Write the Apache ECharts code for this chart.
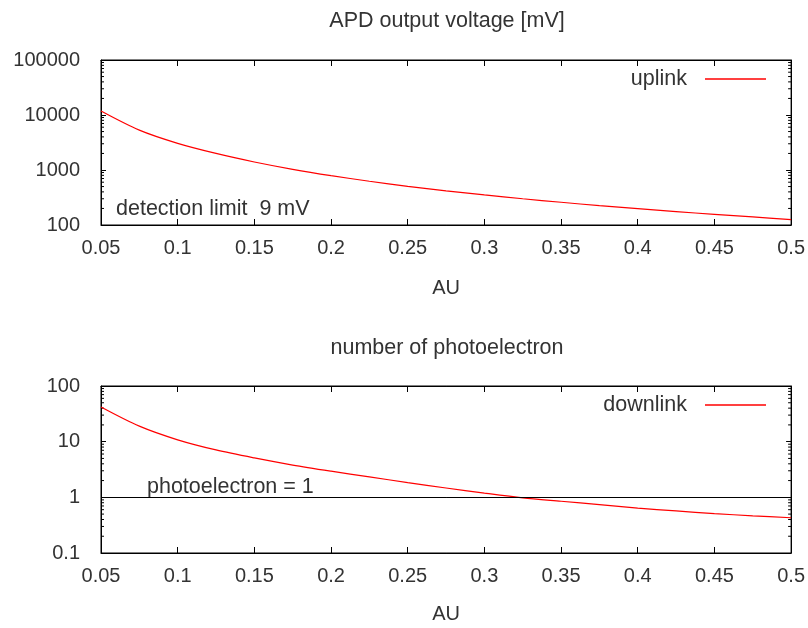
<!DOCTYPE html>
<html>
<head>
<meta charset="utf-8">
<script src="https://cdn.jsdelivr.net/npm/echarts@6/dist/echarts.min.js"></script>
<style>html,body{margin:0;padding:0;background:#fff}#c{width:808px;height:628px}</style>
</head>
<body>
<div id="c"></div>
<script>
// ---- data ----
var au = [0.05, 0.075, 0.1, 0.125, 0.15, 0.175, 0.2, 0.225, 0.25, 0.275, 0.3, 0.325, 0.35, 0.375, 0.4, 0.425, 0.45, 0.475, 0.5];
var uplink = [11800, 5300, 3050, 2000, 1400, 1030, 790, 625, 505, 418, 352, 300, 259, 225, 198, 175, 156, 140, 125];
var downlink = [42, 19, 10.8, 7.1, 5.1, 3.8, 2.95, 2.33, 1.84, 1.47, 1.19, 0.98, 0.85, 0.74, 0.64, 0.57, 0.51, 0.465, 0.43];
var photoelectronLimit = 1;
var xMin = 0.05, xMax = 0.5, xStep = 0.05;
var topYMin = 100, topYMax = 100000;
var botYMin = 0.1, botYMax = 100;
var minorMultipliers = [2, 3, 4, 5, 6, 7, 8, 9];

function pairs(xs, ys) { return xs.map(function (x, i) { return [x, ys[i]]; }); }
function minorValues(lo, hi) {
  var out = [];
  for (var d = lo; d < hi * 0.999; d *= 10) {
    minorMultipliers.forEach(function (m) { out.push([xMin, +(d * m).toPrecision(6)]); });
  }
  return out;
}

var FONT = 'Liberation Sans, Arial, sans-serif';
var TXT = '#333';

function xAxisMain(gi, nameGap) {
  return {
    type: 'value', gridIndex: gi, min: xMin, max: xMax, interval: xStep,
    name: 'AU', nameLocation: 'middle', nameGap: nameGap,
    nameTextStyle: { fontSize: 20, color: TXT, fontFamily: FONT },
    axisLine: { show: true, lineStyle: { color: '#000', width: 1 } },
    axisTick: { show: true, inside: true, length: 6, lineStyle: { color: '#000' } },
    axisLabel: { fontSize: 20, color: TXT, fontFamily: FONT, margin: 13 },
    splitLine: { show: false }
  };
}
function xAxisMirror(gi) {
  return {
    type: 'value', gridIndex: gi, position: 'top', min: xMin, max: xMax, interval: xStep,
    axisLine: { show: true, lineStyle: { color: '#000', width: 1 } },
    axisTick: { show: true, inside: true, length: 6, lineStyle: { color: '#000' } },
    axisLabel: { show: false }, splitLine: { show: false }
  };
}
function yAxisMain(gi, lo, hi) {
  return {
    type: 'log', logBase: 10, gridIndex: gi, min: lo, max: hi,
    axisLine: { show: true, lineStyle: { color: '#000', width: 1 } },
    axisTick: { show: true, inside: true, length: 5, lineStyle: { color: '#000' } },
    axisLabel: { fontSize: 20, color: TXT, fontFamily: FONT, margin: 21,
      formatter: function (v) { return String(+v.toPrecision(6)); } },
    splitLine: { show: false }
  };
}
function yAxisMirror(gi, lo, hi) {
  return {
    type: 'log', logBase: 10, gridIndex: gi, position: 'right', min: lo, max: hi,
    axisLine: { show: true, lineStyle: { color: '#000', width: 1 } },
    axisTick: { show: true, inside: true, length: 5, lineStyle: { color: '#000' } },
    axisLabel: { show: false }, splitLine: { show: false }
  };
}
function minorTickSeries(gi, lo, hi) {
  return {
    type: 'custom', xAxisIndex: gi, yAxisIndex: gi, silent: true, clip: false,
    data: minorValues(lo, hi),
    renderItem: function (params, api) {
      var v = api.value(1);
      var pL = api.coord([xMin, v]);
      var pR = api.coord([xMax, v]);
      var st = { stroke: '#000', lineWidth: 1 };
      return {
        type: 'group', children: [
          { type: 'line', shape: { x1: pL[0], y1: pL[1], x2: pL[0] + 3, y2: pL[1] }, style: st },
          { type: 'line', shape: { x1: pR[0] - 3, y1: pR[1], x2: pR[0], y2: pR[1] }, style: st }
        ]
      };
    }
  };
}

var chart = echarts.init(document.getElementById('c'), null, { renderer: 'canvas' });
chart.setOption({
  animation: false,
  backgroundColor: '#fff',
  textStyle: { fontFamily: FONT },
  title: [
    { text: 'APD output voltage [mV]', left: 442, top: 5, textAlign: 'center',
      textStyle: { fontSize: 21.5, fontWeight: 'normal', color: TXT, fontFamily: FONT } },
    { text: 'number of photoelectron', left: 442, top: 332, textAlign: 'center',
      textStyle: { fontSize: 21.5, fontWeight: 'normal', color: TXT, fontFamily: FONT } }
  ],
  grid: [
    { left: 101, right: 16, top: 60, height: 165, show: true, borderColor: '#000', borderWidth: 1 },
    { left: 101, right: 16, top: 386, height: 167, show: true, borderColor: '#000', borderWidth: 1 }
  ],
  legend: [
    { data: ['uplink'], right: 37, top: 63, align: 'right', icon: 'rect', itemWidth: 61, itemHeight: 1.5,
      textStyle: { fontSize: 21.5, color: TXT, fontFamily: FONT, padding: [0, 13, 0, 0] } },
    { data: ['downlink'], right: 37, top: 389, align: 'right', icon: 'rect', itemWidth: 61, itemHeight: 1.5,
      textStyle: { fontSize: 21.5, color: TXT, fontFamily: FONT, padding: [0, 13, 0, 0] } }
  ],
  xAxis: [xAxisMain(0, 53), xAxisMain(1, 51), xAxisMirror(0), xAxisMirror(1)],
  yAxis: [yAxisMain(0, topYMin, topYMax), yAxisMain(1, botYMin, botYMax),
          yAxisMirror(0, topYMin, topYMax), yAxisMirror(1, botYMin, botYMax)],
  series: [
    { name: 'uplink', type: 'line', xAxisIndex: 0, yAxisIndex: 0, data: pairs(au, uplink),
      smooth: 0.3, symbol: 'none', lineStyle: { color: '#ff0000', width: 1.2 }, itemStyle: { color: '#ff0000' } },
    { name: 'downlink', type: 'line', xAxisIndex: 1, yAxisIndex: 1, data: pairs(au, downlink),
      smooth: 0.3, symbol: 'none', lineStyle: { color: '#ff0000', width: 1.2 }, itemStyle: { color: '#ff0000' },
      markLine: { silent: true, symbol: ['none', 'none'], label: { show: false },
        lineStyle: { color: '#000', width: 1, type: 'solid' },
        data: [{ yAxis: photoelectronLimit }] } },
    minorTickSeries(0, topYMin, topYMax),
    minorTickSeries(1, botYMin, botYMax)
  ],
  graphic: [
    { type: 'text', left: 116, top: 198, style: { text: 'detection limit  9 mV', fontSize: 21.5, fill: TXT, fontFamily: FONT } },
    { type: 'text', left: 147, top: 476, style: { text: 'photoelectron = 1', fontSize: 21.5, fill: TXT, fontFamily: FONT } }
  ]
});
</script>
</body>
</html>
